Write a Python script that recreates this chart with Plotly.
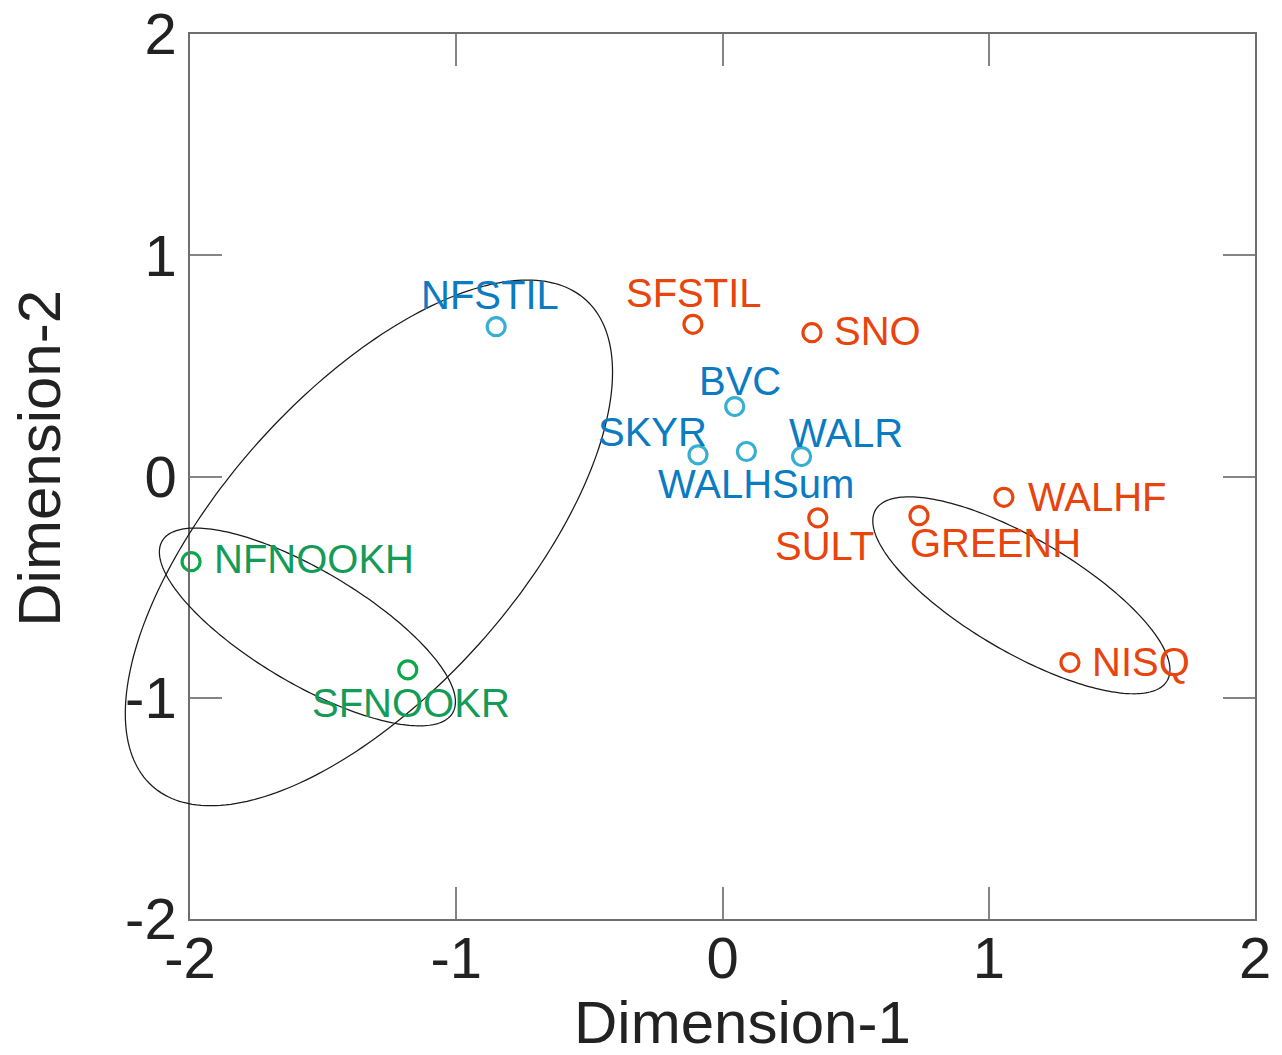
import numpy as np
import plotly.graph_objects as go

# ---------------- data ----------------
blue_names = ["NFSTIL", "BVC", "SKYR", "WALHSum", "WALR"]
blue_x = [-0.850, 0.046, -0.092, 0.090, 0.297]
blue_y = [0.677, 0.316, 0.098, 0.113, 0.090]

red_names = ["SFSTIL", "SNO", "WALHF", "GREENH", "SULT", "NISQ"]
red_x = [-0.111, 0.336, 1.057, 0.738, 0.358, 1.305]
red_y = [0.688, 0.650, -0.094, -0.177, -0.187, -0.841]

green_names = ["NFNOOKH", "SFNOOKR"]
green_x = [-1.996, -1.182]
green_y = [-0.385, -0.874]

# ellipses: centre x, centre y, half-width, half-height, phase (deg)
ell_cx = [-1.328, -1.559, 1.1225]
ell_cy = [-0.300, -0.680, -0.537]
ell_w = [0.915, 0.556, 0.558]
ell_h = [1.188, 0.447, 0.445]
ell_phase = [49.5, 139.2, 139.1]

x_range = [-2, 2]
y_range = [-2, 2]
tick_vals = [-2, -1, 0, 1, 2]
tick_text = ["-2", "-1", "0", "1", "2"]

# ---------------- styles ----------------
FONT = "Arial, 'Liberation Sans', sans-serif"
BLUE_M, BLUE_T = "#38AFD2", "#0B7BC2"
RED_M, RED_T = "#E8440E", "#E8440E"
GREEN_M, GREEN_T = "#0BA84A", "#159B58"

# label placement: (xanchor, xshift, yshift)
placement = {
    "NFSTIL": ("center", -6, 32),
    "BVC": ("center", 5, 26),
    "SKYR": ("center", -46, 23),
    "WALHSum": ("center", 10, -32),
    "WALR": ("center", 44, 24),
    "SFSTIL": ("center", 1, 31),
    "SNO": ("left", 20, 2),
    "WALHF": ("left", 22, 0),
    "GREENH": ("left", -11, -27),
    "SULT": ("center", 7, -28),
    "NISQ": ("left", 20, 1),
    "NFNOOKH": ("left", 21, 3),
    "SFNOOKR": ("center", 3, -33),
}

fig = go.Figure()

# ellipses (drawn as shapes so they may extend past the left axis, as in the
# original); x is expressed as a fraction of the x-axis domain, y in data units
t = np.linspace(0, 2 * np.pi, 241)
shapes = []
for cx, cy, w, h, ph in zip(ell_cx, ell_cy, ell_w, ell_h, ell_phase):
    ex = cx + w * np.cos(t)
    ey = cy + h * np.cos(t - np.radians(ph))
    exd = (ex - x_range[0]) / (x_range[1] - x_range[0])
    path = "M " + " L ".join(f"{a:.5f},{b:.5f}" for a, b in zip(exd, ey)) + " Z"
    shapes.append(dict(type="path", path=path, xref="x domain", yref="y",
                       line=dict(color="#1a1a1a", width=1.25),
                       fillcolor="rgba(0,0,0,0)", layer="above"))

annotations = []
for names, xs, ys, mc, tc in [
    (blue_names, blue_x, blue_y, BLUE_M, BLUE_T),
    (red_names, red_x, red_y, RED_M, RED_T),
    (green_names, green_x, green_y, GREEN_M, GREEN_T),
]:
    fig.add_trace(go.Scatter(
        x=xs, y=ys, mode="markers", text=names, cliponaxis=False,
        marker=dict(symbol="circle-open", size=18, color=mc,
                    line=dict(color=mc, width=3.2)),
        showlegend=False))
    for n, x, y in zip(names, xs, ys):
        xa, xs_, ys_ = placement[n]
        annotations.append(dict(
            x=x, y=y, xref="x", yref="y", text=n, showarrow=False,
            xanchor=xa, yanchor="middle", xshift=xs_, yshift=ys_,
            font=dict(family=FONT, size=40, color=tc)))

# axis titles
annotations.append(dict(
    x=0.5186, y=-0.117, xref="paper", yref="paper", text="Dimension-1",
    showarrow=False, xanchor="center", yanchor="middle",
    font=dict(family=FONT, size=60, color="#222")))
annotations.append(dict(
    x=-0.141, y=0.521, xref="paper", yref="paper", text="Dimension-2",
    showarrow=False, xanchor="center", yanchor="middle", textangle=-90,
    font=dict(family=FONT, size=60, color="#222")))

axis_common = dict(
    tickmode="array", tickvals=tick_vals, ticktext=tick_text,
    ticks="inside", ticklen=32, tickwidth=1.5, tickcolor="#858585",
    showline=True, linecolor="#6e6e6e", linewidth=1.5, mirror="ticks",
    showgrid=False, zeroline=False, automargin=False,
    ticklabeloverflow="allow",
    tickfont=dict(family=FONT, size=58, color="#222"),
)

fig.update_layout(
    width=1282, height=1055,
    margin=dict(l=190, r=27, t=34, b=136, autoexpand=False),
    paper_bgcolor="white", plot_bgcolor="white",
    xaxis=dict(range=x_range, ticklabelstandoff=-12, **axis_common),
    yaxis=dict(range=y_range, ticklabelstandoff=0, **axis_common),
    annotations=annotations,
    shapes=shapes,
    showlegend=False,
)

fig.write_html("out.html", config={"displayModeBar": False},
               post_script="document.body.style.margin='0';")
